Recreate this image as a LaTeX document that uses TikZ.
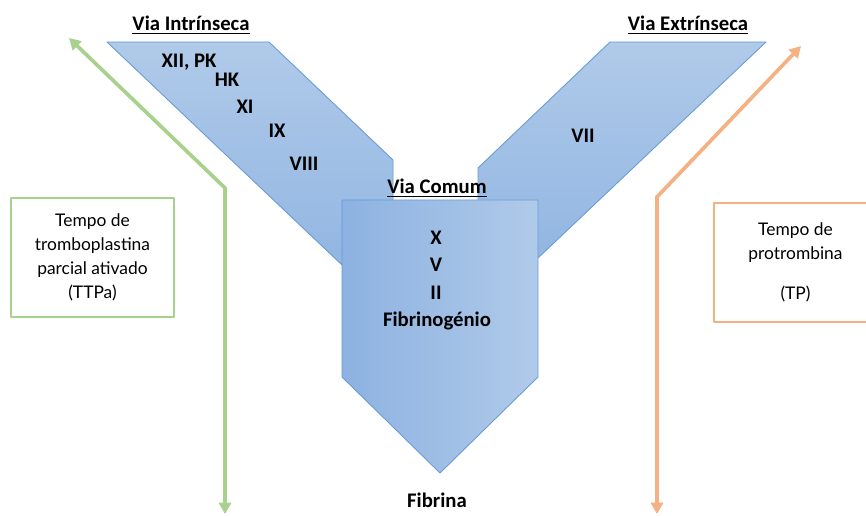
\documentclass[tikz,border=0pt]{standalone}
\usepackage{fontspec}
\setmainfont{Carlito}
\newfontfamily\boxfont{Lato}
\usetikzlibrary{arrows.meta}
\definecolor{ttpagreen}{RGB}{169,209,142}
\definecolor{tporange}{RGB}{244,177,131}
\definecolor{pathline}{RGB}{104,155,214}
\definecolor{pathlight}{RGB}{176,202,233}
\definecolor{pathdark}{RGB}{146,182,226}
\definecolor{comumleft}{RGB}{141,178,225}
\tikzset{
  factor/.style={font=\bfseries\fontsize{11.8}{13}\selectfont, inner sep=0pt},
  heading/.style={factor},
  pathway/.style={draw=pathline, line width=0.5pt},
  testbox/.style={draw=#1, line width=1.6pt, fill=white, minimum width=3.26cm, minimum height=2.38cm,
    align=center, font=\boxfont\fontsize{9.9}{13.6}\selectfont, inner sep=2pt},
  timeline/.style={draw=#1, line width=2.1pt, line join=miter,
    arrows={Triangle[length=6.5pt,width=7pt]-Triangle[length=6.5pt,width=7pt]}},
}

\begin{document}
\begin{tikzpicture}[x=0.02cm, y=-0.02cm, line cap=round, line join=round]
			\useasboundingbox (0,0) rectangle (866,516);
			\clip (0,0) rectangle (866,516);
			% intrinsic and extrinsic arms
			\shade[pathway, top color=pathlight, bottom color=pathdark] (107,42) -- (269,42) -- (393,160) -- (393,265) -- (342,265) -- cycle;
			\shade[pathway, top color=pathlight, bottom color=pathdark] (610,42) -- (766,42) -- (538,258) -- (478,258) -- (478,168) -- cycle;
			% common pathway
			\shade[pathway, left color=comumleft, right color=pathlight] (342,200) -- (538,200) -- (538,377) -- (440,473) -- (342,377) -- cycle;
			\node[heading] (intr) at (191,25) {\underline{Via Intrínseca}};
			\node[heading] (extr) at (688,25) {\underline{Via Extrínseca}};
			\node[heading] (comum) at (437,188) {\underline{Via Comum}};
			\node[factor] (xii) at (189,62) {XII, PK};
			\node[factor] (hk) at (227,80) {HK};
			\node[factor] (xi) at (245,107) {XI};
			\node[factor] (ix) at (277,131) {IX};
			\node[factor] (viii) at (304,164) {VIII};
			\node[factor] (vii) at (583,136) {VII};
			\node[factor] (x) at (436,238) {X};
			\node[factor] (v) at (436,265) {V};
			\node[factor] (ii) at (436,293) {II};
			\node[factor] (fibrinog) at (437,321) {Fibrinogénio};
			\node[factor] (fibrina) at (437,500) {Fibrina};
			% test boxes
			\node[testbox=ttpagreen] (ttpa) at (92.5,257.5) {Tempo de\\tromboplastina\\parcial ativado\\(TTPa)};
			\node[testbox=tporange] (tp) at (795.5,262.5) {Tempo de\\protrombina\\[9pt](TP)};
			% time lines
			\coordinate (gtop) at (69,38);
			\coordinate (gknee) at (225,188);
			\coordinate (gbot) at (225,514);
			\coordinate (otop) at (801,46);
			\coordinate (oknee) at (657,197);
			\coordinate (obot) at (657,514);
			\draw[timeline=ttpagreen] (gtop) -- (gknee) -- (gbot);
			\draw[timeline=tporange] (otop) -- (oknee) -- (obot);
		\end{tikzpicture}
\end{document}
